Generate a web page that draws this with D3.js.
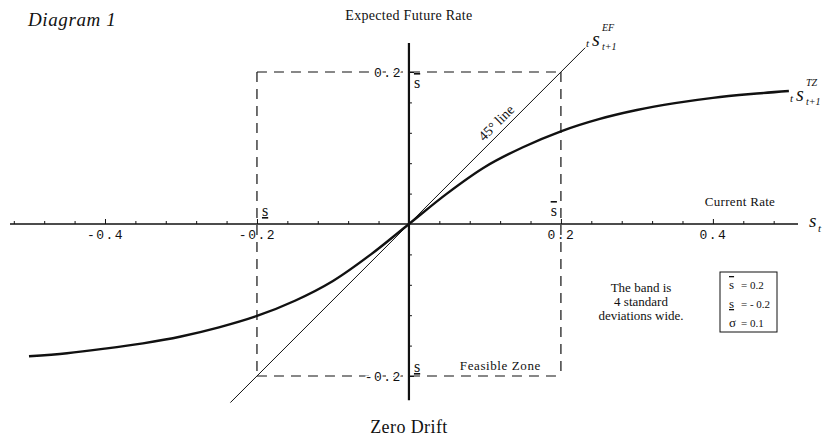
<!DOCTYPE html>
<html>
<head>
<meta charset="utf-8">
<script src="https://cdn.jsdelivr.net/npm/d3@7"></script>
<style>
  html, body { margin: 0; padding: 0; background: #fff; }
  svg { display: block; }
  text { font-family: "Liberation Serif", "DejaVu Serif", serif; fill: #111; }
  .tick text { font-family: "Liberation Mono", "DejaVu Sans Mono", monospace; font-size: 13px; letter-spacing: 1.5px; }
</style>
</head>
<body>
<svg id="chart" width="829" height="443"></svg>
<script>
// Target-zone exchange rate: expected future rate against the current rate
const tzX = [-0.5, -0.45, -0.4, -0.35, -0.3, -0.25, -0.2, -0.15, -0.1, -0.05, 0,
             0.05, 0.1, 0.15, 0.2, 0.25, 0.3, 0.35, 0.4, 0.45, 0.5];
const tzY = [-0.174, -0.170, -0.164, -0.157, -0.148, -0.136, -0.121, -0.101, -0.075, -0.040, 0,
             0.040, 0.075, 0.101, 0.122, 0.138, 0.150, 0.159, 0.166, 0.171, 0.175];

// Free-float (45 degree) line
const efX = [-0.235, 0.232];
const efY = [-0.235, 0.232];

// Band edges
const bandUpper = 0.2;
const bandLower = -0.2;

// Axis ticks and labels
const xMajorTicks = [-0.4, -0.2, 0.2, 0.4];
const xMajorLabels = ["-0.4", "-0.2", "0.2", "0.4"];
const yMajorTicks = [0.2, -0.2];
const yMajorLabels = ["0.2", "-0.2"];
const xMinorTicks = [-0.52, -0.48, -0.44, -0.36, -0.32, -0.28, -0.24, -0.16, -0.12, -0.08, -0.04,
                     0.04, 0.08, 0.12, 0.16, 0.24, 0.28, 0.32, 0.36, 0.44, 0.48];
const yMinorTicks = [-0.16, -0.12, -0.08, -0.04, 0.04, 0.08, 0.12, 0.16];

// Parameter legend
const legendSymbols = ["s", "s", "σ"];
const legendDecor = ["overline", "underline", "none"];
const legendValues = ["= 0.2", "= - 0.2", "= 0.1"];

const svg = d3.select("#chart");

const x = d3.scaleLinear().domain([-0.525, 0.512]).range([10, 798]);
const y = d3.scaleLinear().domain([-0.25, 0.25]).range([414, 34]);

// Dashed feasible-zone rectangle
const dash = "10,7";
const rect = svg.append("g").attr("fill", "none").attr("stroke", "#111")
  .attr("stroke-width", 1.2).attr("stroke-dasharray", dash);
rect.append("line").attr("x1", x(bandLower)).attr("x2", x(bandUpper)).attr("y1", y(bandUpper)).attr("y2", y(bandUpper));
rect.append("line").attr("x1", x(bandLower)).attr("x2", x(bandUpper)).attr("y1", y(bandLower)).attr("y2", y(bandLower));
rect.append("line").attr("x1", x(bandLower)).attr("x2", x(bandLower)).attr("y1", y(bandUpper)).attr("y2", y(bandLower));
rect.append("line").attr("x1", x(bandUpper)).attr("x2", x(bandUpper)).attr("y1", y(bandUpper)).attr("y2", y(bandLower));

// Horizontal axis (ticks point up, labels below)
const xAxisG = svg.append("g").attr("transform", `translate(0,${y(0)})`);
xAxisG.call(d3.axisBottom(x).tickValues(xMinorTicks).tickSizeInner(-3).tickSizeOuter(0).tickFormat(""));
xAxisG.call(g => g.select(".domain").remove());
const xMajorG = svg.append("g").attr("transform", `translate(0,${y(0)})`)
  .call(d3.axisBottom(x).tickValues(xMajorTicks).tickSizeInner(-5).tickSizeOuter(0).tickPadding(6)
        .tickFormat((d, i) => xMajorLabels[i]));
xMajorG.select(".domain").remove();
svg.append("line").attr("x1", x(-0.525)).attr("x2", x(0.512)).attr("y1", y(0)).attr("y2", y(0))
  .attr("stroke", "#111").attr("stroke-width", 1.4);

// Vertical axis (ticks point right, labels left)
const yAxisG = svg.append("g").attr("transform", `translate(${x(0)},0)`);
yAxisG.call(d3.axisLeft(y).tickValues(yMinorTicks).tickSizeInner(-3).tickSizeOuter(0).tickFormat(""));
yAxisG.select(".domain").remove();
const yMajorG = svg.append("g").attr("transform", `translate(${x(0)},0)`)
  .call(d3.axisLeft(y).tickValues(yMajorTicks).tickSizeInner(-5).tickSizeOuter(0).tickPadding(7)
        .tickFormat((d, i) => yMajorLabels[i]));
yMajorG.select(".domain").remove();
yMajorG.selectAll("text").attr("stroke", "#fff").attr("stroke-width", 3).attr("paint-order", "stroke");
svg.append("line").attr("x1", x(0)).attr("x2", x(0)).attr("y1", y(0.238)).attr("y2", y(-0.232))
  .attr("stroke", "#111").attr("stroke-width", 2.2);
svg.selectAll(".tick line").attr("stroke", "#111");

// 45 degree line
const line = d3.line().x(d => x(d[0])).y(d => y(d[1]));
svg.append("path").datum(efX.map((v, i) => [v, efY[i]]))
  .attr("d", line).attr("fill", "none").attr("stroke", "#111").attr("stroke-width", 1);

// Target-zone curve
const curve = d3.line().x(d => x(d[0])).y(d => y(d[1])).curve(d3.curveCatmullRom);
svg.append("path").datum(tzX.map((v, i) => [v, tzY[i]]))
  .attr("d", curve).attr("fill", "none").attr("stroke", "#111").attr("stroke-width", 2.4);

// Text
svg.append("text").attr("x", 28).attr("y", 26).attr("font-style", "italic")
  .attr("font-size", 19).attr("letter-spacing", 0.6).text("Diagram 1");
svg.append("text").attr("x", x(0)).attr("y", 20).attr("text-anchor", "middle")
  .attr("font-size", 14).attr("letter-spacing", 0.3).text("Expected Future Rate");
svg.append("text").attr("x", 740).attr("y", 206).attr("text-anchor", "middle")
  .attr("font-size", 13).attr("letter-spacing", 0.3).text("Current Rate");
svg.append("text").attr("x", 809).attr("y", 227).attr("font-style", "italic")
  .attr("font-size", 19).text("s");
svg.append("text").attr("x", 818).attr("y", 232).attr("font-style", "italic")
  .attr("font-size", 11).text("t");
svg.append("text").attr("x", x(0)).attr("y", 433).attr("text-anchor", "middle")
  .attr("font-size", 18).attr("letter-spacing", 0.4).text("Zero Drift");
svg.append("text").attr("x", x(bandUpper) - 20).attr("y", y(bandLower) - 6).attr("text-anchor", "end")
  .attr("font-size", 13).attr("letter-spacing", 0.6).text("Feasible Zone");

// Band-edge symbols
function bandSymbol(px, py, decor, anchor) {
  svg.append("text").attr("x", px).attr("y", py).attr("font-size", 16)
    .attr("text-anchor", anchor || "start")
    .style("text-decoration", decor).text("s");
}
bandSymbol(x(0) + 5, y(bandUpper) + 16, "overline");
bandSymbol(x(0) + 5, y(bandLower) - 4, "underline");
bandSymbol(x(bandLower) + 5, y(0) - 8, "underline");
bandSymbol(x(bandUpper) - 4, y(0) - 8, "overline", "end");

// 45 degree line label
const mid = 0.124;
svg.append("text").attr("transform", `translate(${x(mid)},${y(mid)}) rotate(-45)`)
  .attr("dy", -5).attr("text-anchor", "middle").attr("font-size", 14).text("45° line");

// Curve labels: left subscript t, S, superscript, subscript t+1
function curveLabel(px, py, sup) {
  const g = svg.append("g").attr("font-style", "italic");
  g.append("text").attr("x", px).attr("y", py + 1).attr("font-size", 11).text("t");
  g.append("text").attr("x", px + 6).attr("y", py).attr("font-size", 20).text("s");
  g.append("text").attr("x", px + 16).attr("y", py - 15).attr("font-size", 10).text(sup);
  g.append("text").attr("x", px + 16).attr("y", py + 4).attr("font-size", 10).text("t+1");
}
curveLabel(586, 46, "EF");
curveLabel(790, 101, "TZ");

// Band note
const note = ["The band is", "4 standard", "deviations wide."];
svg.append("g").selectAll("text").data(note).join("text")
  .attr("x", 641).attr("y", (d, i) => 292 + i * 14).attr("text-anchor", "middle")
  .attr("font-size", 13).text(d => d);

// Parameter box
svg.append("rect").attr("x", 720).attr("y", 272).attr("width", 57).attr("height", 60)
  .attr("fill", "none").attr("stroke", "#111").attr("stroke-width", 1);
const leg = svg.append("g");
legendSymbols.forEach((s, i) => {
  leg.append("text").attr("x", 729).attr("y", 289 + i * 19).attr("font-size", 13)
    .style("text-decoration", legendDecor[i]).text(s);
  leg.append("text").attr("x", 741).attr("y", 289 + i * 19).attr("font-size", 11)
    .text(legendValues[i]);
});
</script>
</body>
</html>
